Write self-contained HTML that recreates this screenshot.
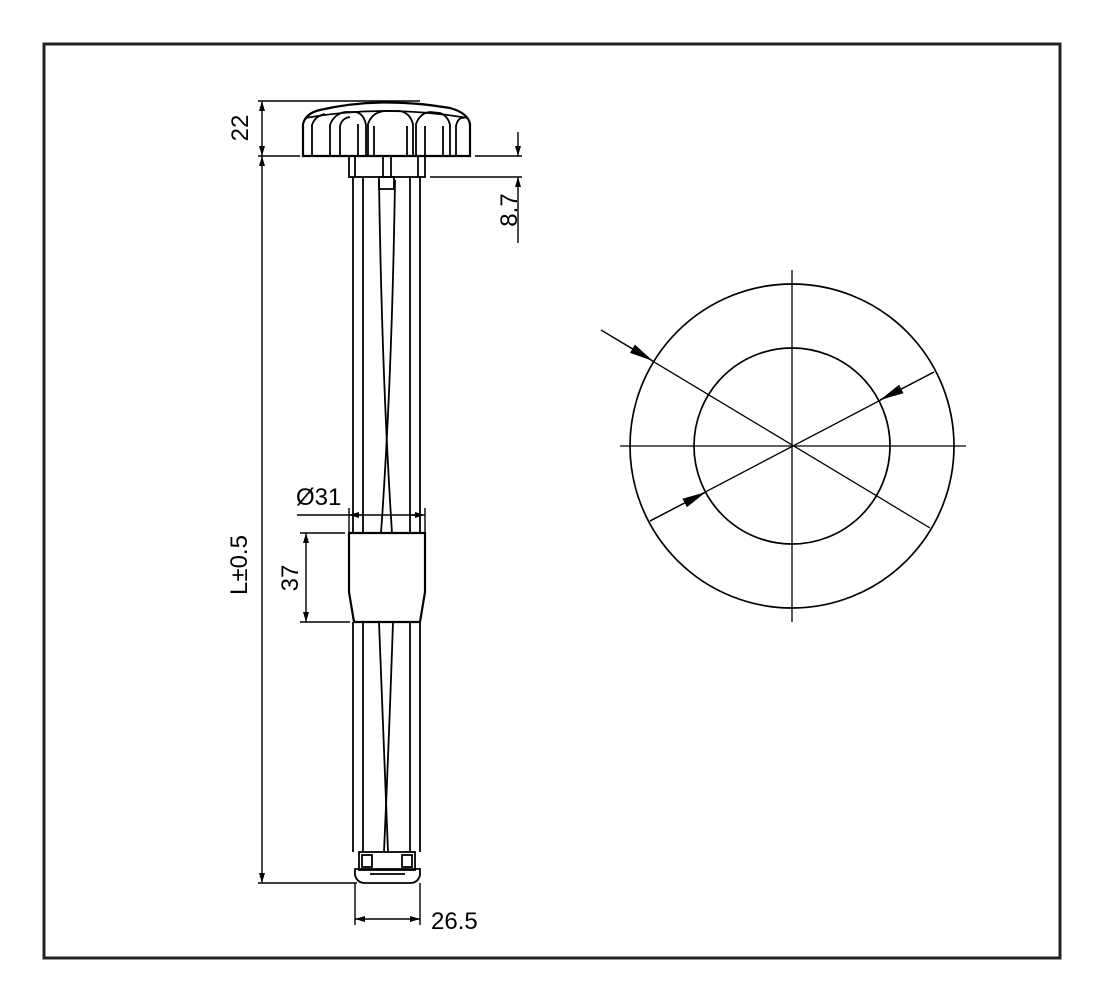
<!DOCTYPE html>
<html><head><style>html,body{margin:0;padding:0;background:#fff}svg{display:block}</style></head><body>
<svg width="1103" height="990" viewBox="0 0 1103 990" xmlns="http://www.w3.org/2000/svg" font-family="Liberation Sans, sans-serif">
<rect x="0" y="0" width="1103" height="990" fill="#fff"/>
<rect x="44" y="44" width="1016" height="914" fill="none" stroke="#222" stroke-width="3"/>
<defs>
<marker id="a" viewBox="0 0 10 10" refX="10" refY="5" markerWidth="10" markerHeight="10" markerUnits="userSpaceOnUse" orient="auto-start-reverse"><path d="M0,2 L10,5 L0,8 z" fill="#000"/></marker>
<marker id="b" viewBox="0 0 10 10" refX="10" refY="5" markerWidth="24" markerHeight="24" markerUnits="userSpaceOnUse" orient="auto"><path d="M0,3 L10,5 L0,7 z" fill="#000"/></marker>
</defs>
<g stroke="#000" fill="none" stroke-width="1.8">
<!-- knob -->
<path d="M303,156 L303,124 Q306,113 320,110 Q380,96 450,108 Q468,113 470,124 L470,156 Z" stroke-width="2.2"/>
<path d="M305,118 Q385,104 468,118"/>
<path d="M312,156 L312,125 Q315,116 325,114"/>
<path d="M330,156 L330,125 Q334,114 345,112 L356,112 Q364,114 366,125 L366,156"/>
<path d="M340,156 L340,126 Q342,118 350,117"/>
<path d="M358,156 L358,124"/>
<path d="M368,156 L368,124 Q372,112 385,111 L400,111 Q410,113 413,124 L413,156"/>
<path d="M374,156 L374,126"/><path d="M407,156 L407,126"/>
<path d="M416,156 L416,124 Q420,113 430,112 L440,113 Q448,116 450,125 L450,156"/>
<path d="M425,156 L425,126"/><path d="M443,156 L443,126"/>
<path d="M456,156 L456,126 Q458,117 464,118"/>
<!-- collar -->
<rect x="349" y="156" width="76" height="21"/>
<line x1="355" y1="156" x2="355" y2="177"/><line x1="383" y1="156" x2="383" y2="177"/><line x1="391" y1="156" x2="391" y2="177"/><line x1="418" y1="156" x2="418" y2="177"/>
<rect x="379" y="177" width="15" height="12"/>
<!-- tube -->
<line x1="353" y1="177" x2="353" y2="533"/><line x1="363" y1="177" x2="363" y2="533"/>
<line x1="410" y1="177" x2="410" y2="533"/><line x1="420" y1="177" x2="420" y2="533"/>
<path d="M379,180 Q382,380 392,533"/><path d="M395,180 Q392,380 381,533"/>
<!-- sleeve -->
<path d="M349,533 L425,533 L425,592 L420,622 L354,622 L349,592 Z" stroke-width="2.2"/>
<line x1="353" y1="622" x2="353" y2="852"/><line x1="363" y1="622" x2="363" y2="852"/>
<line x1="410" y1="622" x2="410" y2="852"/><line x1="420" y1="622" x2="420" y2="852"/>
<path d="M379,622 Q384,740 388,852"/><path d="M393,622 Q389,740 384,852"/>
<!-- bottom end -->
<rect x="359" y="852" width="56" height="18"/>
<rect x="362" y="855" width="10" height="12"/><rect x="402" y="855" width="10" height="12"/>
<path d="M355,869 L420,869 L420,875 Q418,883 410,883 L365,883 Q357,883 355,875 Z"/>
<line x1="370" y1="874" x2="405" y2="874"/>
</g>
<g stroke="#000" stroke-width="1.4" fill="none">
<line x1="258" y1="101" x2="420" y2="101"/>
<line x1="258" y1="156" x2="300" y2="156"/>
<line x1="262" y1="101" x2="262" y2="156" marker-start="url(#a)" marker-end="url(#a)"/>
<line x1="262" y1="156" x2="262" y2="883" marker-start="url(#a)" marker-end="url(#a)"/>
<line x1="258" y1="883" x2="357" y2="883"/>
<line x1="475" y1="156" x2="522" y2="156"/><line x1="430" y1="177" x2="522" y2="177"/>
<line x1="518" y1="132" x2="518" y2="156" marker-end="url(#a)"/>
<line x1="518" y1="177" x2="518" y2="243" marker-start="url(#a)"/>
<line x1="349" y1="508" x2="349" y2="533"/><line x1="425" y1="508" x2="425" y2="533"/>
<line x1="297" y1="515" x2="353" y2="515"/>
<line x1="363" y1="515" x2="349" y2="515" marker-end="url(#a)"/>
<line x1="410" y1="515" x2="425" y2="515" marker-end="url(#a)"/>
<line x1="353" y1="515" x2="420" y2="515"/>
<line x1="300" y1="533" x2="345" y2="533"/><line x1="300" y1="622" x2="350" y2="622"/>
<line x1="306" y1="533" x2="306" y2="622" marker-start="url(#a)" marker-end="url(#a)"/>
<line x1="355" y1="883" x2="355" y2="925"/><line x1="420" y1="883" x2="420" y2="925"/>
<line x1="355" y1="919" x2="420" y2="919" marker-start="url(#a)" marker-end="url(#a)"/>
</g>
<g fill="#000" font-size="24">
<text transform="translate(248,128) rotate(-90)" text-anchor="middle">22</text>
<text transform="translate(517,210) rotate(-90)" text-anchor="middle">8.7</text>
<text transform="translate(247,565) rotate(-90)" text-anchor="middle">L±0.5</text>
<text transform="translate(298,578) rotate(-90)" text-anchor="middle">37</text>
<text x="296" y="505">Ø31</text>
<text x="431" y="929">26.5</text>
</g>
<g stroke="#000" stroke-width="1.7" fill="none">
<circle cx="792" cy="446" r="162"/>
<circle cx="792" cy="446" r="98"/>
<line x1="620" y1="446" x2="966" y2="446" stroke-width="1.3"/>
<line x1="792" y1="270" x2="792" y2="622" stroke-width="1.3"/>
<line x1="601" y1="330" x2="930" y2="528" stroke-width="1.3"/>
<line x1="650" y1="521" x2="934" y2="372" stroke-width="1.3"/>
<line x1="601" y1="330" x2="653" y2="361" marker-end="url(#b)" stroke-width="1.3"/>
<line x1="934" y1="372" x2="880" y2="400" marker-end="url(#b)" stroke-width="1.3"/>
<line x1="650" y1="521" x2="706" y2="492" marker-end="url(#b)" stroke-width="1.3"/>
</g>
</svg>
</body></html>
